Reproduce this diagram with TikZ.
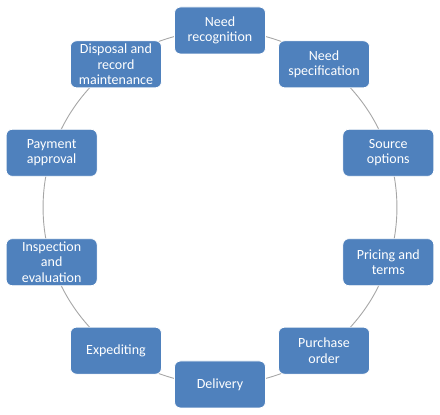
\documentclass[tikz,border=0pt]{standalone}
\usepackage{fontspec}
\setmainfont{Carlito}
\usetikzlibrary{backgrounds}
\definecolor{stepblue}{HTML}{4F81BD}
\definecolor{ringgray}{HTML}{A6A6A6}
\tikzset{
  stage/.style={rectangle, rounded corners=6pt, fill=stepblue, draw=white, line width=0.8pt,
    minimum width=91pt, minimum height=47pt, inner sep=2pt, align=center,
    text=white, font=\fontsize{14}{15.4}\selectfont},
  link/.style={ringgray, line width=0.9pt, bend left=18, looseness=0.87}
}
\begin{document}
\begin{tikzpicture}[x=1pt, y=1pt]
  \useasboundingbox (-220,-207.5) rectangle (220,207.5);
  % stages round the cycle
  \node[stage] (rec) at (90:177) {Need\\recognition};
  \node[stage] (spec) at (54:177) {Need\\specification};
  \node[stage] (src) at (18:177) {Source\\options};
  \node[stage] (price) at (-18:177) {Pricing and\\terms};
  \node[stage] (po) at (-54:177) {Purchase\\order};
  \node[stage] (deliv) at (-90:177) {Delivery};
  \node[stage] (exped) at (-126:177) {Expediting};
  \node[stage] (insp) at (-162:177) {Inspection\\and\\evaluation};
  \node[stage] (pay) at (162:177) {Payment\\approval};
  \node[stage] (disp) at (126:177) {Disposal and\\record\\maintenance};
  % ring behind the boxes
  \begin{scope}[on background layer]
    \draw[link] (rec.center) to (spec.center) to (src.center) to (price.center)
      to (po.center) to (deliv.center) to (exped.center) to (insp.center)
      to (pay.center) to (disp.center) to (rec.center);
  \end{scope}
\end{tikzpicture}
\end{document}
